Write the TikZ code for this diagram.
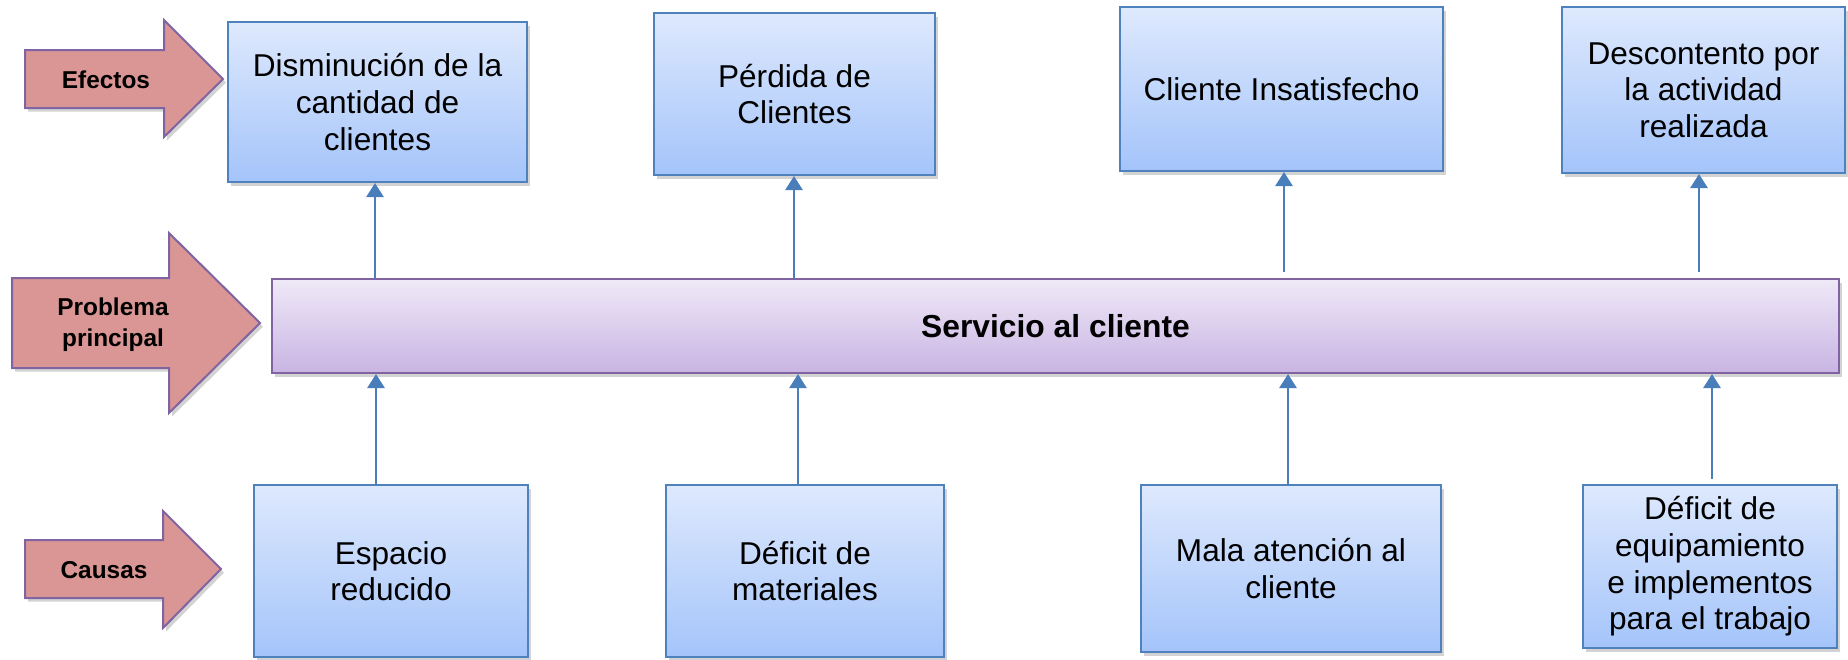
\documentclass[tikz,border=0pt]{standalone}
\usepackage{fontspec}
\setmainfont{Liberation Sans}
\usetikzlibrary{arrows.meta,shadows}
\definecolor{cajaborde}{HTML}{4F81BD}
\definecolor{cajaarriba}{HTML}{DEE9FD}
\definecolor{cajaabajo}{HTML}{A4C4FA}
\definecolor{barraborde}{HTML}{8064A2}
\definecolor{barraarriba}{HTML}{EFE9F7}
\definecolor{barraabajo}{HTML}{C9B4E3}
\definecolor{bloquerelleno}{HTML}{D99694}
\definecolor{lineaazul}{HTML}{4A7EBB}
\tikzset{>={Triangle[width=8.5pt,length=7pt]}}
\tikzset{
  sombra/.style={drop shadow={shadow xshift=1.5pt,shadow yshift=-1.8pt,opacity=0.35}},
  caja/.style={draw=cajaborde, line width=1pt, top color=cajaarriba, bottom color=cajaabajo,
    sombra, align=center, inner sep=0pt, font=\fontsize{15.8}{18.3}\selectfont},
  barra/.style={draw=barraborde, line width=1pt, top color=barraarriba, bottom color=barraabajo,
    sombra, inner sep=0pt, font=\fontsize{15.9}{18.3}\selectfont\bfseries},
  bloque/.style={draw=barraborde, line width=1pt, fill=bloquerelleno, sombra},
  etiqueta/.style={align=center, inner sep=0pt, font=\fontsize{12.2}{15.5}\selectfont\bfseries},
  flecha/.style={->, draw=lineaazul, line width=1.3pt}
}

\begin{document}
\begin{tikzpicture}[x=0.5pt,y=-0.5pt]
            \useasboundingbox (0,0) rectangle (1848,659);
            % flechas grandes de la izquierda
            \draw[bloque] (25,50) -- (164,50) -- (164,20) -- (223,79) -- (164,137) -- (164,108) -- (25,108) -- cycle;
            \draw[bloque] (12,278) -- (169,278) -- (169,233) -- (260,323) -- (169,413) -- (169,368) -- (12,368) -- cycle;
            \draw[bloque] (25,540) -- (163,540) -- (163,511) -- (221,569) -- (163,628) -- (163,598) -- (25,598) -- cycle;
            \node[etiqueta] (efectos) at (106,80) {Efectos};
            \node[etiqueta] (problema) at (113,325) {Problema\\principal};
            \node[etiqueta] (causas) at (104,570) {Causas};
            % efectos
            \node[caja, minimum width=149.5pt, minimum height=80pt] (dism) at (377.5,102) {Disminución de la\\cantidad de\\clientes};
            \node[caja, minimum width=140.5pt, minimum height=81pt] (perd) at (794.5,94) {Pérdida de\\Clientes};
            \node[caja, minimum width=161.5pt, minimum height=82pt] (insat) at (1281.5,89) {Cliente Insatisfecho};
            \node[caja, minimum width=141.5pt, minimum height=83pt] (desc) at (1703.5,90) {Descontento por\\la actividad\\realizada};
            % problema principal
            \node[barra, minimum width=783.5pt, minimum height=47pt] (serv) at (1055.5,326) {Servicio al cliente};
            % causas
            \node[caja, minimum width=136.75pt, minimum height=86pt] (esp) at (391,571) {Espacio\\reducido};
            \node[caja, minimum width=139pt, minimum height=86pt] (mat) at (805,571) {Déficit de\\materiales};
            \node[caja, minimum width=150pt, minimum height=83.5pt] (mala) at (1291,568.5) {Mala atención al\\cliente};
            \node[caja, minimum width=127pt, minimum height=81.5pt] (equip) at (1710,566.5) {Déficit de\\equipamiento\\e implementos\\para el trabajo};
            % posiciones de las flechas
            \coordinate (x1) at (375,0);
            \coordinate (x2) at (794,0);
            \coordinate (x3) at (1284,0);
            \coordinate (x4) at (1699,0);
            \coordinate (y1) at (376,0);
            \coordinate (y2) at (798,0);
            \coordinate (y3) at (1288,0);
            \coordinate (y4) at (1712,0);
            \draw[flecha] (serv.north -| x1) -- (dism.south -| x1);
            \draw[flecha] (serv.north -| x2) -- (perd.south -| x2);
            \draw[flecha] ([yshift=3pt]serv.north -| x3) -- (insat.south -| x3);
            \draw[flecha] ([yshift=3pt]serv.north -| x4) -- (desc.south -| x4);
            \draw[flecha] (esp.north -| y1) -- (serv.south -| y1);
            \draw[flecha] (mat.north -| y2) -- (serv.south -| y2);
            \draw[flecha] (mala.north -| y3) -- (serv.south -| y3);
            \draw[flecha] ([yshift=2.5pt]equip.north -| y4) -- (serv.south -| y4);
        \end{tikzpicture}
\end{document}
